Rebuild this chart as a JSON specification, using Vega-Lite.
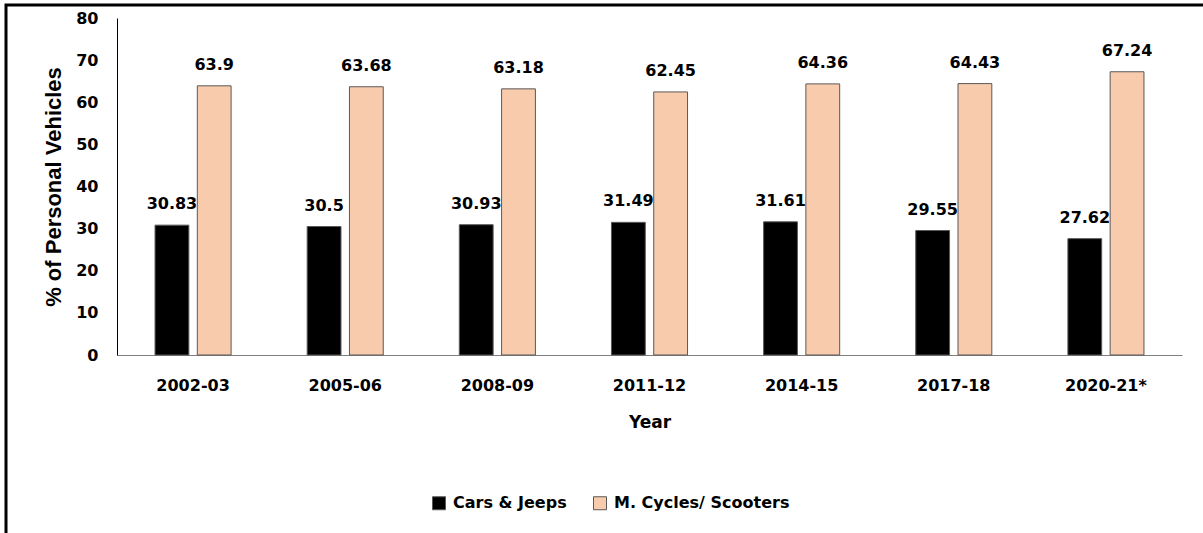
{
  "$schema": "https://vega.github.io/schema/vega-lite/v6.json",
  "width": 1197,
  "height": 528,
  "autosize": {"type": "none"},
  "padding": {"left": 6, "top": 5, "right": 0, "bottom": 0},
  "background": "white",
  "config": {
    "view": {"stroke": "#000000", "strokeWidth": 3, "strokeDash": [1197, 1725, 528]},
    "axis": {"grid": false, "ticks": false}
  },
  "data": {
    "values": [
      {"year": "2002-03", "type": "Cars & Jeeps", "value": 30.83},
      {"year": "2002-03", "type": "M. Cycles/ Scooters", "value": 63.9},
      {"year": "2005-06", "type": "Cars & Jeeps", "value": 30.5},
      {"year": "2005-06", "type": "M. Cycles/ Scooters", "value": 63.68},
      {"year": "2008-09", "type": "Cars & Jeeps", "value": 30.93},
      {"year": "2008-09", "type": "M. Cycles/ Scooters", "value": 63.18},
      {"year": "2011-12", "type": "Cars & Jeeps", "value": 31.49},
      {"year": "2011-12", "type": "M. Cycles/ Scooters", "value": 62.45},
      {"year": "2014-15", "type": "Cars & Jeeps", "value": 31.61},
      {"year": "2014-15", "type": "M. Cycles/ Scooters", "value": 64.36},
      {"year": "2017-18", "type": "Cars & Jeeps", "value": 29.55},
      {"year": "2017-18", "type": "M. Cycles/ Scooters", "value": 64.43},
      {"year": "2020-21*", "type": "Cars & Jeeps", "value": 27.62},
      {"year": "2020-21*", "type": "M. Cycles/ Scooters", "value": 67.24}
    ]
  },
  "encoding": {
    "x": {
      "field": "year",
      "type": "nominal",
      "sort": null,
      "scale": {"range": [111, 1176], "paddingInner": 0.5, "paddingOuter": 0.25},
      "axis": {
        "title": "Year",
        "offset": -178,
        "labelAngle": 0,
        "labelFont": "DejaVu Sans",
        "labelFontWeight": "bold",
        "labelFontSize": 16,
        "labelColor": "#000000",
        "labelPadding": 22,
        "domainColor": "#808080",
        "domainWidth": 1,
        "titleFont": "DejaVu Sans",
        "titleFontWeight": "bold",
        "titleFontSize": 17,
        "titleColor": "#000000",
        "titlePadding": 21
      }
    },
    "xOffset": {
      "field": "type",
      "type": "nominal",
      "sort": ["Cars & Jeeps", "M. Cycles/ Scooters"],
      "scale": {"paddingInner": 0.2, "paddingOuter": 0}
    },
    "y": {
      "field": "value",
      "type": "quantitative",
      "scale": {"domain": [0, 80], "range": [350, 13], "nice": false, "zero": true},
      "axis": {
        "title": "% of Personal Vehicles",
        "offset": -111,
        "values": [0, 10, 20, 30, 40, 50, 60, 70, 80],
        "labelFont": "DejaVu Sans",
        "labelFontWeight": "bold",
        "labelFontSize": 16,
        "labelColor": "#000000",
        "labelPadding": 19,
        "domainColor": "#000000",
        "domainWidth": 1,
        "titleFont": "Liberation Sans",
        "titleFontWeight": "bold",
        "titleFontSize": 22,
        "titleColor": "#000000",
        "titlePadding": 10
      }
    }
  },
  "layer": [
    {
      "mark": {"type": "bar", "stroke": "#595959", "strokeWidth": 1},
      "encoding": {
        "color": {
          "field": "type",
          "type": "nominal",
          "scale": {"domain": ["Cars & Jeeps", "M. Cycles/ Scooters"], "range": ["#000000", "#F8CBAD"]},
          "legend": {
            "title": null,
            "orient": "none",
            "direction": "horizontal",
            "legendX": 425,
            "legendY": 490,
            "padding": 0,
            "symbolType": "square",
            "symbolSize": 169,
            "symbolStrokeColor": "#595959",
            "symbolStrokeWidth": 1,
            "symbolOpacity": 1,
            "labelFont": "DejaVu Sans",
            "labelFontWeight": "bold",
            "labelFontSize": 16,
            "labelColor": "#000000",
            "labelOffset": 6,
            "labelLimit": 0,
            "columnPadding": 24
          }
        }
      }
    },
    {
      "mark": {
        "type": "text",
        "font": "DejaVu Sans",
        "fontWeight": "bold",
        "fontSize": 16,
        "color": "#000000",
        "baseline": "alphabetic",
        "dy": -16
      },
      "encoding": {
        "text": {"field": "value", "type": "nominal"}
      }
    }
  ]
}
